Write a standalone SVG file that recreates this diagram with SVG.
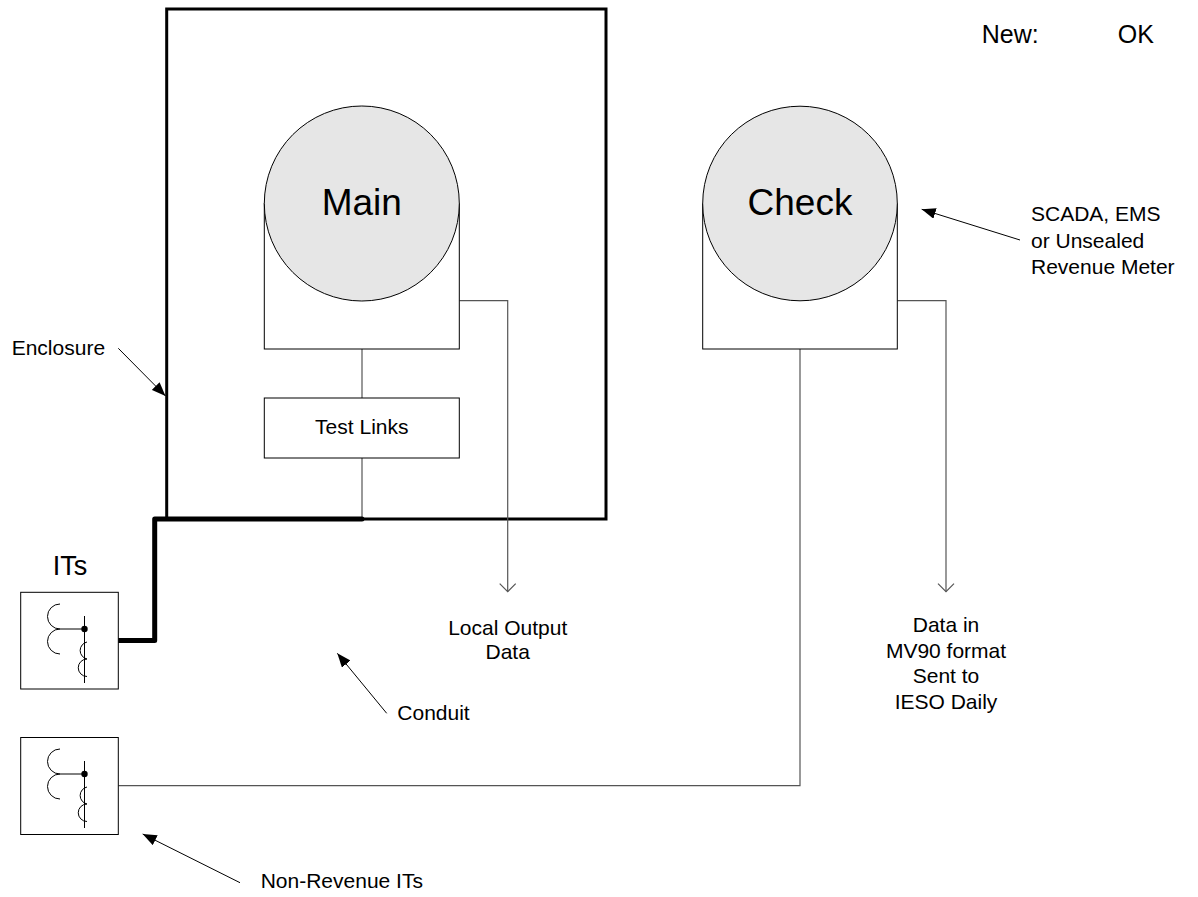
<svg xmlns="http://www.w3.org/2000/svg" width="1198" height="897" viewBox="0 0 1198 897">
<style>
text{font-family:"Liberation Sans",Arial,sans-serif;fill:#000}
.lbl{font-size:21px}
.big{font-size:37px}
.box{fill:#fff;stroke:#000;stroke-width:1}
.meter{fill:#e6e6e6;stroke:#000;stroke-width:1}
.conn{fill:none;stroke:#555;stroke-width:1.2}
.call{fill:none;stroke:#000;stroke-width:1}
.it{fill:none;stroke:#000;stroke-width:1}
</style>
<defs>
<marker id="fa" markerUnits="userSpaceOnUse" markerWidth="15" markerHeight="11" refX="14" refY="5.5" orient="auto">
<path d="M0,0 L14,5.5 L0,11 z" fill="#000"/>
</marker>
<marker id="oa" markerUnits="userSpaceOnUse" markerWidth="11" markerHeight="18" refX="9" refY="9" orient="auto">
<path d="M1,1 L9,9 L1,17" fill="none" stroke="#555" stroke-width="1.2"/>
</marker>
<g id="itsym">
<path class="it" d="M60,604 A12.5,12.5 0 0 0 60,629 A12.5,12.5 0 0 0 60,654"/>
<line class="it" x1="60" y1="629" x2="84.5" y2="629" stroke="#444"/>
<line class="it" x1="84.5" y1="616" x2="84.5" y2="683" stroke="#444"/>
<path class="it" d="M87,642 A8.7,8.7 0 0 0 87,659 A8.7,8.7 0 0 0 87,676.5"/>
<circle cx="84.5" cy="629" r="3.2" fill="#000"/>
</g>
</defs>
<rect width="1198" height="897" fill="#fff"/>

<g id="enclosure">
<rect x="166.7" y="9" width="439.3" height="510" fill="none" stroke="#000" stroke-width="3"/>
</g>

<g id="connectors">
<line class="conn" x1="362" y1="349" x2="362" y2="398"/>
<line class="conn" x1="362" y1="458" x2="362" y2="519"/>
<polyline class="conn" points="459.3,300.7 507.7,300.7 507.7,591.7" marker-end="url(#oa)"/>
<polyline class="conn" points="897.3,300.7 946,300.7 946,591.7" marker-end="url(#oa)"/>
<polyline class="conn" points="800,349 800,785.7 118.3,785.7"/>
<polyline points="118.3,640.5 154.7,640.5 154.7,519 362,519" fill="none" stroke="#000" stroke-width="5" stroke-linejoin="round" stroke-linecap="round"/>
</g>

<g id="main">
<rect class="box" x="264.3" y="203.5" width="195" height="145.5"/>
<circle class="meter" cx="361.8" cy="203.5" r="97.5"/>
<text class="big" x="361.8" y="215" text-anchor="middle">Main</text>
</g>

<g id="testlinks">
<rect class="box" x="264.3" y="398" width="195" height="60"/>
<text class="lbl" x="361.8" y="434" text-anchor="middle">Test Links</text>
</g>

<g id="check">
<rect class="box" x="702.7" y="203.5" width="194.6" height="145.5"/>
<circle class="meter" cx="800" cy="203.5" r="97.3"/>
<text class="big" x="800" y="215" text-anchor="middle">Check</text>
</g>

<g id="its">
<rect class="box" x="20.7" y="592.3" width="97.6" height="96.7"/>
<use href="#itsym"/>
<text x="70" y="575" text-anchor="middle" style="font-size:27px">ITs</text>
</g>

<g id="nonrevenue-its">
<rect class="box" x="20.7" y="737.5" width="97.6" height="97"/>
<use href="#itsym" transform="translate(0,145)"/>
</g>

<g id="labels">
<text x="981.7" y="43.3" style="font-size:25px">New:</text>
<text x="1117.7" y="43.3" style="font-size:25px">OK</text>
<text class="lbl" x="11.7" y="355">Enclosure</text>
<text class="lbl" x="507.7" y="635" text-anchor="middle">Local Output</text>
<text class="lbl" x="507.7" y="659" text-anchor="middle">Data</text>
<text class="lbl" x="946" y="632" text-anchor="middle">Data in</text>
<text class="lbl" x="946" y="657.5" text-anchor="middle">MV90 format</text>
<text class="lbl" x="946" y="683.3" text-anchor="middle">Sent to</text>
<text class="lbl" x="946" y="709" text-anchor="middle">IESO Daily</text>
<text class="lbl" x="1031" y="221">SCADA, EMS</text>
<text class="lbl" x="1031" y="247.7">or Unsealed</text>
<text class="lbl" x="1031" y="274">Revenue Meter</text>
<text class="lbl" x="397.3" y="720">Conduit</text>
<text class="lbl" x="260.7" y="888.3">Non-Revenue ITs</text>
</g>

<g id="callouts">
<line class="call" x1="118.3" y1="348.3" x2="165.5" y2="396" marker-end="url(#fa)"/>
<line class="call" x1="1020" y1="240" x2="921.7" y2="209.3" marker-end="url(#fa)"/>
<line class="call" x1="386.7" y1="713.3" x2="337.3" y2="653.3" marker-end="url(#fa)"/>
<line class="call" x1="240" y1="882.7" x2="142.7" y2="834" marker-end="url(#fa)"/>
</g>
</svg>
